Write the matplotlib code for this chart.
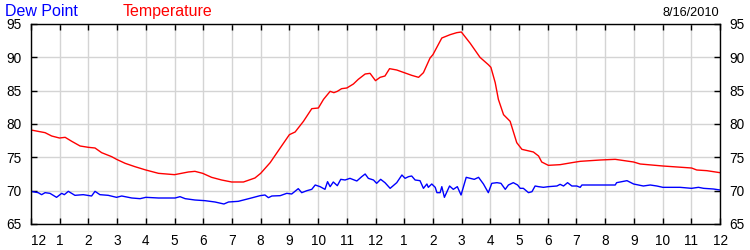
import matplotlib
matplotlib.use("Agg")
import matplotlib.pyplot as plt

# Temperature (hour of day, degrees F)
temp_hours = [0, 0.49, 0.72, 0.99, 1.19, 1.42, 1.71, 2.0, 2.23, 2.46, 2.81, 2.98, 3.28, 3.62,
              4.0, 4.44, 5.0, 5.48, 5.71, 5.98, 6.29, 6.64, 6.99, 7.4, 7.8, 8.0, 8.33, 8.68,
              9.0, 9.2, 9.49, 9.78, 10.01, 10.19, 10.42, 10.55, 10.67, 10.82, 11.0, 11.23,
              11.4, 11.64, 11.81, 12.0, 12.16, 12.33, 12.49, 12.74, 13.0, 13.26, 13.5, 13.67,
              13.9, 14.0, 14.31, 14.6, 14.83, 14.99, 15.3, 15.64, 15.93, 16.02, 16.17, 16.28,
              16.46, 16.69, 16.92, 17.1, 17.5, 17.68, 17.79, 18.02, 18.43, 18.84, 19.13,
              19.83, 20.35, 20.99, 21.22, 22.01, 23.01, 23.19, 23.54, 24.0]
temp_values = [79.1, 78.7, 78.2, 77.9, 78.0, 77.4, 76.7, 76.5, 76.4, 75.7, 75.1, 74.7, 74.1, 73.6,
               73.1, 72.6, 72.4, 72.8, 72.9, 72.6, 72.0, 71.6, 71.3, 71.3, 71.9, 72.6, 74.2, 76.4,
               78.4, 78.8, 80.4, 82.3, 82.4, 83.7, 84.9, 84.7, 84.9, 85.3, 85.4, 86.0,
               86.7, 87.5, 87.6, 86.5, 87.0, 87.2, 88.3, 88.1, 87.7, 87.3, 87.0, 87.7,
               89.9, 90.4, 92.9, 93.4, 93.7, 93.8, 92.1, 90.0, 88.9, 88.5, 86.2, 83.7,
               81.4, 80.4, 77.2, 76.2, 75.8, 75.2, 74.3, 73.8, 73.9, 74.2, 74.4,
               74.6, 74.7, 74.3, 74.0, 73.7, 73.4, 73.1, 73.0, 72.7]

# Dew point (hour of day, degrees F)
dew_hours = [0, 0.25, 0.37, 0.49, 0.66, 0.89, 1.07, 1.16, 1.3, 1.53, 1.82, 2.11, 2.23, 2.4,
             2.69, 2.98, 3.16, 3.51, 3.8, 4.0, 4.44, 5.02, 5.19, 5.37, 5.71, 6.06, 6.41, 6.72,
             6.88, 7.22, 7.63, 7.98, 8.15, 8.27, 8.39, 8.68, 8.91, 9.08, 9.31, 9.43, 9.61,
             9.78, 9.9, 10.07, 10.24, 10.33, 10.42, 10.53, 10.67, 10.79, 10.94, 11.11, 11.35,
             11.52, 11.64, 11.75, 11.93, 12.04, 12.18, 12.33, 12.51, 12.74, 12.92, 13.03,
             13.15, 13.26, 13.38, 13.55, 13.67, 13.79, 13.84, 13.96, 14.08, 14.14, 14.25,
             14.31, 14.4, 14.58, 14.71, 14.85, 14.98, 15.16, 15.3, 15.44, 15.59, 15.76,
             15.93, 16.05, 16.23, 16.37, 16.52, 16.63, 16.8, 16.95, 17.04, 17.15, 17.33,
             17.45, 17.56, 17.68, 17.85, 18.02, 18.32, 18.43, 18.55, 18.69, 18.84, 19.01,
             19.13, 19.19, 19.71, 20.35, 20.4, 20.76, 20.99, 21.33, 21.57, 21.8, 22.01,
             22.61, 23.01, 23.25, 23.43, 23.77, 24.0]
dew_values = [69.9, 69.7, 69.4, 69.7, 69.6, 69.0, 69.6, 69.4, 69.9, 69.3, 69.4, 69.2, 69.9, 69.4,
              69.3, 69.0, 69.2, 68.9, 68.8, 69.0, 68.9, 68.9, 69.1, 68.8, 68.6, 68.5, 68.3, 68.0,
              68.3, 68.4, 68.85, 69.25, 69.35, 68.95, 69.2, 69.25, 69.6, 69.5, 70.3, 69.7, 70.0,
              70.2, 70.85, 70.6, 70.2, 71.35, 70.6, 71.3, 70.75, 71.7, 71.6, 71.85, 71.45,
              72.1, 72.5, 71.85, 71.6, 71.1, 71.7, 71.2, 70.35, 71.2, 72.35, 71.85,
              72.1, 72.2, 71.6, 71.5, 70.35, 71.0, 70.5, 71.0, 70.5, 69.7, 69.7,
              70.6, 69.0, 70.7, 70.2, 70.6, 69.35, 72.0, 71.85, 71.7, 72.0, 71.0,
              69.7, 71.1, 71.2, 71.1, 70.2, 70.85, 71.2, 70.85, 70.35, 70.35, 69.7,
              69.85, 70.7, 70.6, 70.5, 70.6, 70.7, 70.95, 70.7, 71.2, 70.7, 70.7,
              70.5, 70.85, 70.85, 70.85, 71.2, 71.5, 71.0, 70.7, 70.85, 70.7, 70.5,
              70.5, 70.35, 70.5, 70.35, 70.25, 70.1]

hour_ticks = list(range(25))
hour_labels = ["12", "1", "2", "3", "4", "5", "6", "7", "8", "9", "10", "11",
               "12", "1", "2", "3", "4", "5", "6", "7", "8", "9", "10", "11", "12"]
y_ticks = [65, 70, 75, 80, 85, 90, 95]

plt.rcParams['font.family'] = ['Liberation Sans', 'DejaVu Sans']

fig = plt.figure(figsize=(7.5, 2.5), dpi=100)
ax = fig.add_axes([31/750, 1-224/250, (720-31)/750, 200/250])

ax.plot(temp_hours, temp_values, color='#ff0000', lw=1.0)
ax.plot(dew_hours, dew_values, color='#0000ff', lw=1.0)

ax.set_xlim(0, 24)
ax.set_ylim(65, 95)
ax.set_xticks(hour_ticks)
ax.set_xticklabels(hour_labels)
ax.set_yticks(y_ticks)
ax.set_yticklabels([str(v) for v in y_ticks])
ax.grid(True, color='#d4d4d4', lw=1.0)
ax.set_axisbelow(True)

ax.tick_params(axis='both', direction='in', length=4, width=1, color='black',
               labelsize=9.8, top=True, right=True, labelright=True, pad=7)
xl = ax.get_xticklabels()
xl[0].set_horizontalalignment('left')
for s in ax.spines.values():
    s.set_color('black')
    s.set_linewidth(1.0)

fig.text(5/750, 1-16/250, 'Dew Point', color='#0000ff', fontsize=11.5, va='baseline', ha='left')
fig.text(123/750, 1-16/250, 'Temperature', color='#ff0000', fontsize=11.5, va='baseline', ha='left')
fig.text(719/750, 1-16/250, '8/16/2010', color='black', fontsize=9.2, va='baseline', ha='right')

fig.savefig('out.png', dpi=100)
